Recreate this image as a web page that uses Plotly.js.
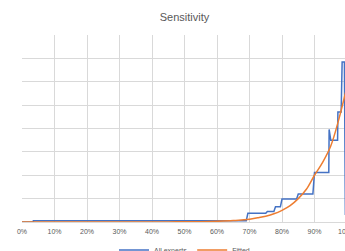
<!DOCTYPE html>
<html>
<head>
<meta charset="utf-8">
<script src="https://cdn.plot.ly/plotly-3.0.1.min.js"></script>
<style>
html,body{margin:0;padding:0;overflow:hidden;background:#fff;width:345px;height:251px;}
#chart{width:352px;height:251px;}
</style>
</head>
<body>
<div id="chart"></div>
<script>
// All experts (step-like empirical curve)
var expertsX = [0, 0.035, 0.035, 0.69, 0.695, 0.75, 0.755, 0.775, 0.78, 0.795, 0.80, 0.845, 0.85, 0.895, 0.90, 0.944, 0.945, 0.95, 0.971, 0.972, 0.982, 0.985, 0.992, 0.995];
var expertsY = [0, 0, 0.05, 0.05, 0.37, 0.37, 0.45, 0.45, 0.65, 0.65, 0.98, 0.98, 1.2, 1.2, 2.12, 2.12, 3.96, 3.5, 3.5, 4.71, 4.71, 6.85, 6.85, 0.3];
// Fitted curve
var fittedX = [0, 0.1, 0.2, 0.3, 0.4, 0.45, 0.5, 0.55, 0.6, 0.65, 0.675, 0.7, 0.725, 0.75, 0.775, 0.8, 0.825, 0.85, 0.875, 0.9, 0.925, 0.95, 0.975, 1.0];
var fittedY = [0, 0, 0, 0, 0.002, 0.005, 0.01, 0.015, 0.03, 0.06, 0.09, 0.12, 0.18, 0.25, 0.35, 0.5, 0.7, 1.0, 1.4, 2.0, 2.55, 3.25, 4.4, 5.8];
var xTicks = [0, 0.1, 0.2, 0.3, 0.4, 0.5, 0.6, 0.7, 0.8, 0.9, 1.0];

var traces = [
  {x: expertsX, y: expertsY, name: 'All experts', type: 'scatter', mode: 'lines',
   line: {color: '#4472C4', width: 1.5}},
  {x: fittedX, y: fittedY, name: 'Fitted', type: 'scatter', mode: 'lines',
   line: {color: '#ED7D31', width: 1.5, shape: 'spline'}}
];

var layout = {
  width: 352, height: 251,
  margin: {l: 22, r: 5, t: 35, b: 29, autoexpand: false},
  paper_bgcolor: '#ffffff', plot_bgcolor: '#ffffff',
  font: {family: 'Liberation Sans, Arial, sans-serif', color: '#595959', size: 7},
  title: {text: 'Sensitivity', x: 0.5, xref: 'paper', y: 0.932, yref: 'container', yanchor: 'middle',
          font: {size: 11, color: '#595959', family: 'Liberation Sans, Arial, sans-serif'}},
  xaxis: {range: [0, 1], tickvals: xTicks, tickformat: '.0%', showgrid: true, gridcolor: '#D9D9D9',
          gridwidth: 1, zeroline: false, showline: true, linecolor: '#D9D9D9', ticks: '',
          ticklabeloverflow: 'allow', ticklabelstandoff: 3,
          tickfont: {size: 7, color: '#595959'}, fixedrange: true},
  yaxis: {range: [0, 8], dtick: 1, showticklabels: false, showgrid: true, gridcolor: '#D9D9D9',
          gridwidth: 1, zeroline: false, showline: false, ticks: '', fixedrange: true},
  showlegend: true,
  legend: {orientation: 'h', x: 0.5, xanchor: 'center', y: -0.15, yanchor: 'middle',
           font: {size: 7, color: '#595959'}, bgcolor: 'rgba(0,0,0,0)'}
};

Plotly.newPlot('chart', traces, layout, {displayModeBar: false, staticPlot: true});
</script>
</body>
</html>
